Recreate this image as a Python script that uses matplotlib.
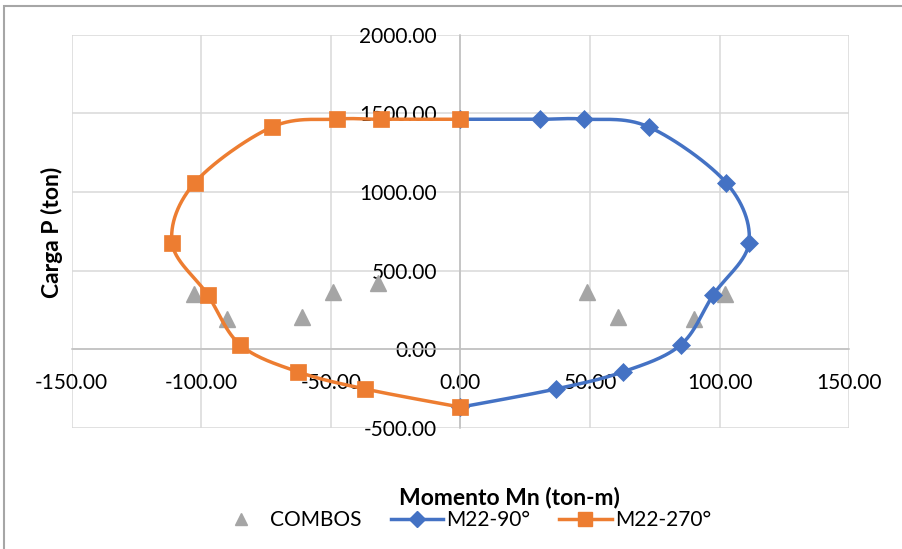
import numpy as np
import matplotlib
matplotlib.use("Agg")
import matplotlib.pyplot as plt
from matplotlib.lines import Line2D
from matplotlib.patches import Rectangle

plt.rcParams['font.family'] = ['Lato', 'DejaVu Sans']

# Interaction diagram data (ton-m, ton)
m22_90_mn = [0.0, 30.5, 47.7, 72.7, 102.6, 111.3, 97.6, 84.9, 62.6, 36.7, 0.0]
m22_90_p = [1462, 1462, 1463, 1413, 1057, 677, 347, 26, -145, -254, -369]
m22_270_mn = [0.0, -30.5, -47.7, -72.7, -102.6, -111.3, -97.6, -84.9, -62.6, -36.7, 0.0]
m22_270_p = [1462, 1462, 1463, 1413, 1057, 677, 347, 26, -145, -254, -369]

# Load combinations
combos_mn = [-102.7, -90.0, -61.0, -49.3, -31.7, 48.8, 60.9, 90.2, 102.0]
combos_p = [350, 190, 202, 365, 419, 365, 202, 190, 350]

x_ticks = [-150, -100, -50, 0, 50, 100, 150]
y_ticks = [-500, 0, 500, 1000, 1500, 2000]

BLUE = '#4472C4'
ORANGE = '#ED7D31'
GRAY = '#A5A5A5'
GRID = '#D9D9D9'
FS = 15
TITLE_FS = 16.5

fig = plt.figure(figsize=(9.03, 5.49), dpi=100)
ax = fig.add_axes([0.0794, 0.2209, 0.8611, 0.7159])
ax.set_xlim(-150, 150)
ax.set_ylim(-500, 2000)


def smooth(xs, ys, n=30):
    """Bezier smoothing of a polyline, computed in display space."""
    pts = ax.transData.transform(np.column_stack([xs, ys]))
    P = np.vstack([pts[0], pts, pts[-1]])
    segs = []
    for i in range(1, len(P) - 2):
        p0, p1, p2, p3 = P[i - 1], P[i], P[i + 1], P[i + 2]
        c1 = p1 + (p2 - p0) / 6.0
        c2 = p2 - (p3 - p1) / 6.0
        t = np.linspace(0, 1, n, endpoint=(i == len(P) - 3))[:, None]
        segs.append((1 - t) ** 3 * p1 + 3 * (1 - t) ** 2 * t * c1
                    + 3 * (1 - t) * t ** 2 * c2 + t ** 3 * p2)
    curve = ax.transData.inverted().transform(np.vstack(segs))
    return curve[:, 0], curve[:, 1]


# Grid
ax.set_xticks(x_ticks)
ax.set_yticks(y_ticks)
ax.grid(True, color=GRID, linewidth=1.1, zorder=0)
for gl in ax.get_xgridlines() + ax.get_ygridlines():
    gl.set_clip_on(False)
ax.set_axisbelow(True)

# Axes crossing at the origin
for side in ['top', 'right']:
    ax.spines[side].set_visible(False)
ax.spines['bottom'].set_position(('data', 0))
ax.spines['left'].set_position(('data', 0))
for side in ['bottom', 'left']:
    ax.spines[side].set_color('#BFBFBF')
    ax.spines[side].set_linewidth(1.1)
    ax.spines[side].set_zorder(1)

ax.tick_params(axis='both', length=0, labelsize=FS, colors='black')
ax.tick_params(axis='x', pad=17)
ax.tick_params(axis='y', pad=17)
ax.set_xticklabels([f'{v:.2f}' for v in x_ticks])
ax.set_yticklabels([f'{v:.2f}' for v in y_ticks])

# Series
ax.plot(combos_mn, combos_p, linestyle='none', marker='^', ms=12,
        color=GRAY, mec=GRAY, zorder=3)

sx, sy = smooth(m22_90_mn, m22_90_p)
ax.plot(sx, sy, color=BLUE, lw=2.5, zorder=4, solid_capstyle='round')
ax.plot(m22_90_mn, m22_90_p, linestyle='none', marker='D', ms=9,
        color=BLUE, mec=BLUE, mew=0.5, zorder=5)

sx, sy = smooth(m22_270_mn, m22_270_p)
ax.plot(sx, sy, color=ORANGE, lw=2.5, zorder=6, solid_capstyle='round')
ax.plot(m22_270_mn, m22_270_p, linestyle='none', marker='s', ms=12,
        color=ORANGE, mec=ORANGE, mew=0.5, zorder=7)

# Axis titles
fig.text(509 / 903, 1 - 497 / 549, 'Momento Mn (ton-m)', fontsize=TITLE_FS,
         fontweight='bold', ha='center', va='center')
fig.text(52 / 903, 1 - 232 / 549, 'Carga P (ton)', fontsize=TITLE_FS,
         fontweight='bold', ha='center', va='center', rotation=90)

# Legend
handles = [
    Line2D([], [], linestyle='none', marker='^', ms=9, color=GRAY),
    Line2D([], [], color=BLUE, lw=2.5, marker='D', ms=8, mec=BLUE),
    Line2D([], [], color=ORANGE, lw=2.5, marker='s', ms=10, mec=ORANGE),
]
labels = ['COMBOS', 'M22-90°', 'M22-270°']
fig.legend(handles, labels, loc='center', bbox_to_anchor=(463 / 903, 1 - 520 / 549),
           ncol=3, frameon=False, fontsize=FS, handlelength=2.5,
           handletextpad=0.15, columnspacing=1.4, borderpad=0)

# Chart frame
fig.patches.append(Rectangle((4.5 / 903, -0.2), 1.2, 1.2 - 5.5 / 549,
                             transform=fig.transFigure, fill=False,
                             edgecolor='#A6A6A6', linewidth=1.5))

fig.savefig('out.png', dpi=100)
